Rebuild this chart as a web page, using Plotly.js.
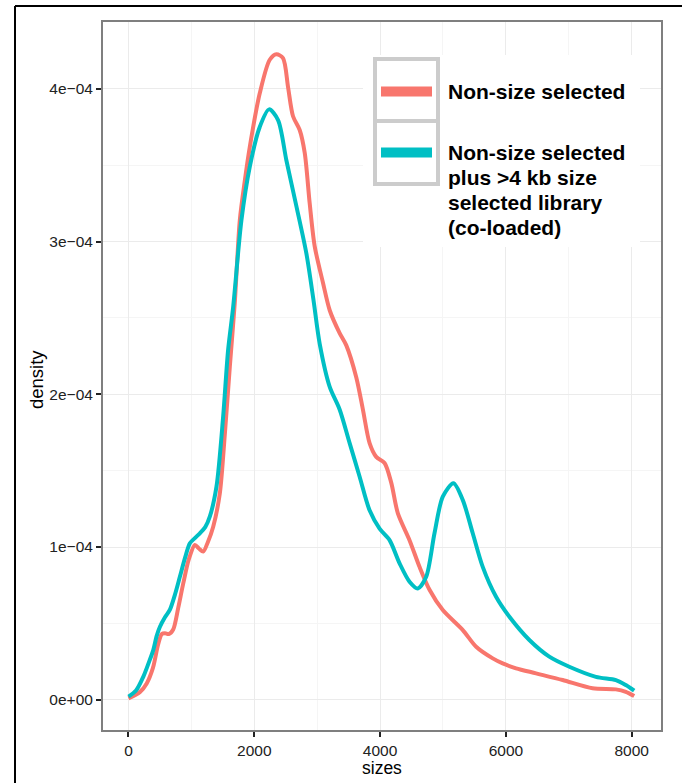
<!DOCTYPE html>
<html>
<head>
<meta charset="utf-8">
<script src="https://cdn.plot.ly/plotly-3.0.1.min.js"></script>
<style>html,body{margin:0;padding:0;background:#fff;}#chart{width:682px;height:783px;}</style>
</head>
<body>
<div id="chart"></div>
<script>
// ---- data ----
const seriesNames = ["Non-size selected", "Non-size selected<br>plus >4 kb size<br>selected library<br>(co-loaded)"];
const seriesColors = ["#F8766D", "#00BFC4"];

const redSizes = [0,180,290,390,470,530,580,640,711,790,870,960,1056,1120,1188,1260,1347,1452,1532,1611,1690,1770,1850,1929,2087,2246,2352,2457,2537,2616,2722,2802,2881,2960,3092,3199,3357,3463,3622,3727,3833,3939,4071,4178,4283,4468,4627,4786,4997,5315,5527,5791,5949,6162,6479,6902,7378,7749,7907,8040];
const redDensity = [9e-7,5e-6,1.07e-5,2.1e-5,3.6e-5,4.3e-5,4.35e-5,4.3e-5,4.6e-5,6.0e-5,7.6e-5,9.2e-5,1.013e-4,9.9e-5,9.7e-5,1.03e-4,1.133e-4,1.35e-4,1.74e-4,2.18e-4,2.6e-4,3.14e-4,3.4e-4,3.62e-4,3.97e-4,4.19e-4,4.226e-4,4.2e-4,4.01e-4,3.82e-4,3.73e-4,3.58e-4,3.25e-4,2.97e-4,2.73e-4,2.55e-4,2.4e-4,2.32e-4,2.11e-4,1.9e-4,1.68e-4,1.59e-4,1.55e-4,1.42e-4,1.22e-4,1.045e-4,8.7e-5,7.2e-5,5.87e-5,4.56e-5,3.47e-5,2.71e-5,2.38e-5,2.06e-5,1.73e-5,1.29e-5,7.5e-6,6.8e-6,5.2e-6,2.4e-6];

const tealSizes = [0,120,235,320,394,450,500,580,659,740,817,900,976,1060,1135,1220,1294,1399,1505,1584,1664,1796,1929,2087,2235,2378,2511,2670,2829,2940,3040,3198,3357,3516,3675,3833,3992,4151,4310,4468,4600,4733,4865,4997,5167,5315,5473,5632,5844,6056,6373,6690,7008,7431,7749,7907,8040];
const tealDensity = [2e-6,6e-6,1.5e-5,2.4e-5,3.25e-5,4.2e-5,4.78e-5,5.4e-5,5.9e-5,6.9e-5,8.05e-5,9.3e-5,1.024e-4,1.06e-4,1.09e-4,1.13e-4,1.2e-4,1.395e-4,1.853e-4,2.29e-4,2.57e-4,3.14e-4,3.49e-4,3.75e-4,3.865e-4,3.795e-4,3.53e-4,3.23e-4,2.92e-4,2.62e-4,2.33e-4,2.05e-4,1.9e-4,1.68e-4,1.46e-4,1.24e-4,1.12e-4,1.045e-4,8.93e-5,7.73e-5,7.29e-5,8.05e-5,1.09e-4,1.33e-4,1.417e-4,1.307e-4,1.09e-4,8.7e-5,6.74e-5,5.43e-5,3.91e-5,2.82e-5,2.16e-5,1.5e-5,1.29e-5,9.6e-6,5.9e-6];

const xTickVals = [0, 2000, 4000, 6000, 8000];
const xTickText = ["0", "2000", "4000", "6000", "8000"];
const xMinorVals = [1000, 3000, 5000, 7000];
const yTickVals = [0, 1e-4, 2e-4, 3e-4, 4e-4];
const yTickText = ["0e+00", "1e\u221204", "2e\u221204", "3e\u221204", "4e\u221204"];
const yMinorVals = [5e-5, 1.5e-4, 2.5e-4, 3.5e-4];
const xTitle = "sizes";
const yTitle = "density";

// ---- layout geometry (pixels) ----
const W = 682, H = 783;
const L = 103, R = 661, T = 22, B = 730;
const px = v => (v - L) / (R - L);
const py = v => (B - v) / (B - T);
const FONT = "Liberation Sans, Arial, Helvetica, sans-serif";

const traces = [
  {x: redSizes, y: redDensity, name: seriesNames[0].replace(/<br>/g, " ")},
  {x: tealSizes, y: tealDensity, name: seriesNames[1].replace(/<br>/g, " ")}
].map((t, i) => Object.assign(t, {
  type: "scatter", mode: "lines",
  line: {color: seriesColors[i], width: 4, shape: "spline", smoothing: 0.8},
  hoverinfo: "x+y"
}));

const shapes = [
  // outer frame (only top/left visible)
  {type: "line", xref: "paper", yref: "paper", x0: px(15), x1: px(15), y0: py(6), y1: py(800), line: {color: "#000", width: 2}},
  {type: "line", xref: "paper", yref: "paper", x0: px(15), x1: px(700), y0: py(6), y1: py(6), line: {color: "#000", width: 2}},
  // legend background
  {type: "rect", xref: "paper", yref: "paper", layer: "above", x0: px(363), x1: px(640), y0: py(247), y1: py(55), fillcolor: "#fff", line: {width: 0}},
  // legend key boxes
  {type: "rect", xref: "paper", yref: "paper", layer: "above", x0: px(375), x1: px(438), y0: py(121), y1: py(59), fillcolor: "#fff", line: {color: "#cccccc", width: 4}},
  {type: "rect", xref: "paper", yref: "paper", layer: "above", x0: px(375), x1: px(438), y0: py(184), y1: py(121), fillcolor: "rgba(0,0,0,0)", line: {color: "#cccccc", width: 4}},
  {type: "line", xref: "paper", yref: "paper", layer: "above", x0: px(381), x1: px(432), y0: py(91.5), y1: py(91.5), line: {color: seriesColors[0], width: 10}},
  {type: "line", xref: "paper", yref: "paper", layer: "above", x0: px(381), x1: px(432), y0: py(152.5), y1: py(152.5), line: {color: seriesColors[1], width: 10}}
];

const annotations = [];
const labelTops = [91.5, 152.5];
seriesNames.forEach((nm, i) => {
  nm.split("<br>").forEach((ln, j) => {
    annotations.push({
      xref: "paper", yref: "paper", x: px(446), y: py(labelTops[i] + j * 25),
      xanchor: "left", yanchor: "middle", showarrow: false, text: ln,
      font: {family: FONT, size: 21, color: "#000", weight: "bold"}
    });
  });
});
annotations.push({xref: "paper", yref: "paper", x: px(382), y: py(768), xanchor: "center", yanchor: "middle", showarrow: false, text: xTitle, font: {family: FONT, size: 17.5, color: "#000"}});
annotations.push({xref: "paper", yref: "paper", x: px(36), y: py(380), xanchor: "center", yanchor: "middle", showarrow: false, textangle: -90, text: yTitle, font: {family: FONT, size: 18.5, color: "#000"}});

const axisCommon = {
  showline: true, mirror: true, linecolor: "#7f7f7f", linewidth: 2,
  ticks: "outside", ticklen: 5, tickwidth: 2, tickcolor: "#222",
  showgrid: true, gridcolor: "#ebebeb", gridwidth: 1, zeroline: false,
  tickfont: {family: FONT, size: 15.5, color: "#222"},
  automargin: false, tickmode: "array"
};

const layout = {
  width: W, height: H,
  margin: {l: L, r: W - R, t: T, b: H - B, pad: 0},
  paper_bgcolor: "#fff", plot_bgcolor: "#fff",
  showlegend: false,
  xaxis: Object.assign({}, axisCommon, {
    range: [-405, 8466], tickvals: xTickVals, ticktext: xTickText,
    minor: {tickmode: "array", tickvals: xMinorVals, showgrid: true, gridcolor: "#f5f5f5", gridwidth: 1, ticks: ""}
  }),
  yaxis: Object.assign({}, axisCommon, {
    range: [-1.98e-5, 4.437e-4], tickvals: yTickVals, ticktext: yTickText,
    minor: {tickmode: "array", tickvals: yMinorVals, showgrid: true, gridcolor: "#f5f5f5", gridwidth: 1, ticks: ""}
  }),
  shapes: shapes,
  annotations: annotations
};

Plotly.newPlot("chart", traces, layout, {displayModeBar: false, staticPlot: true});
</script>
</body>
</html>
